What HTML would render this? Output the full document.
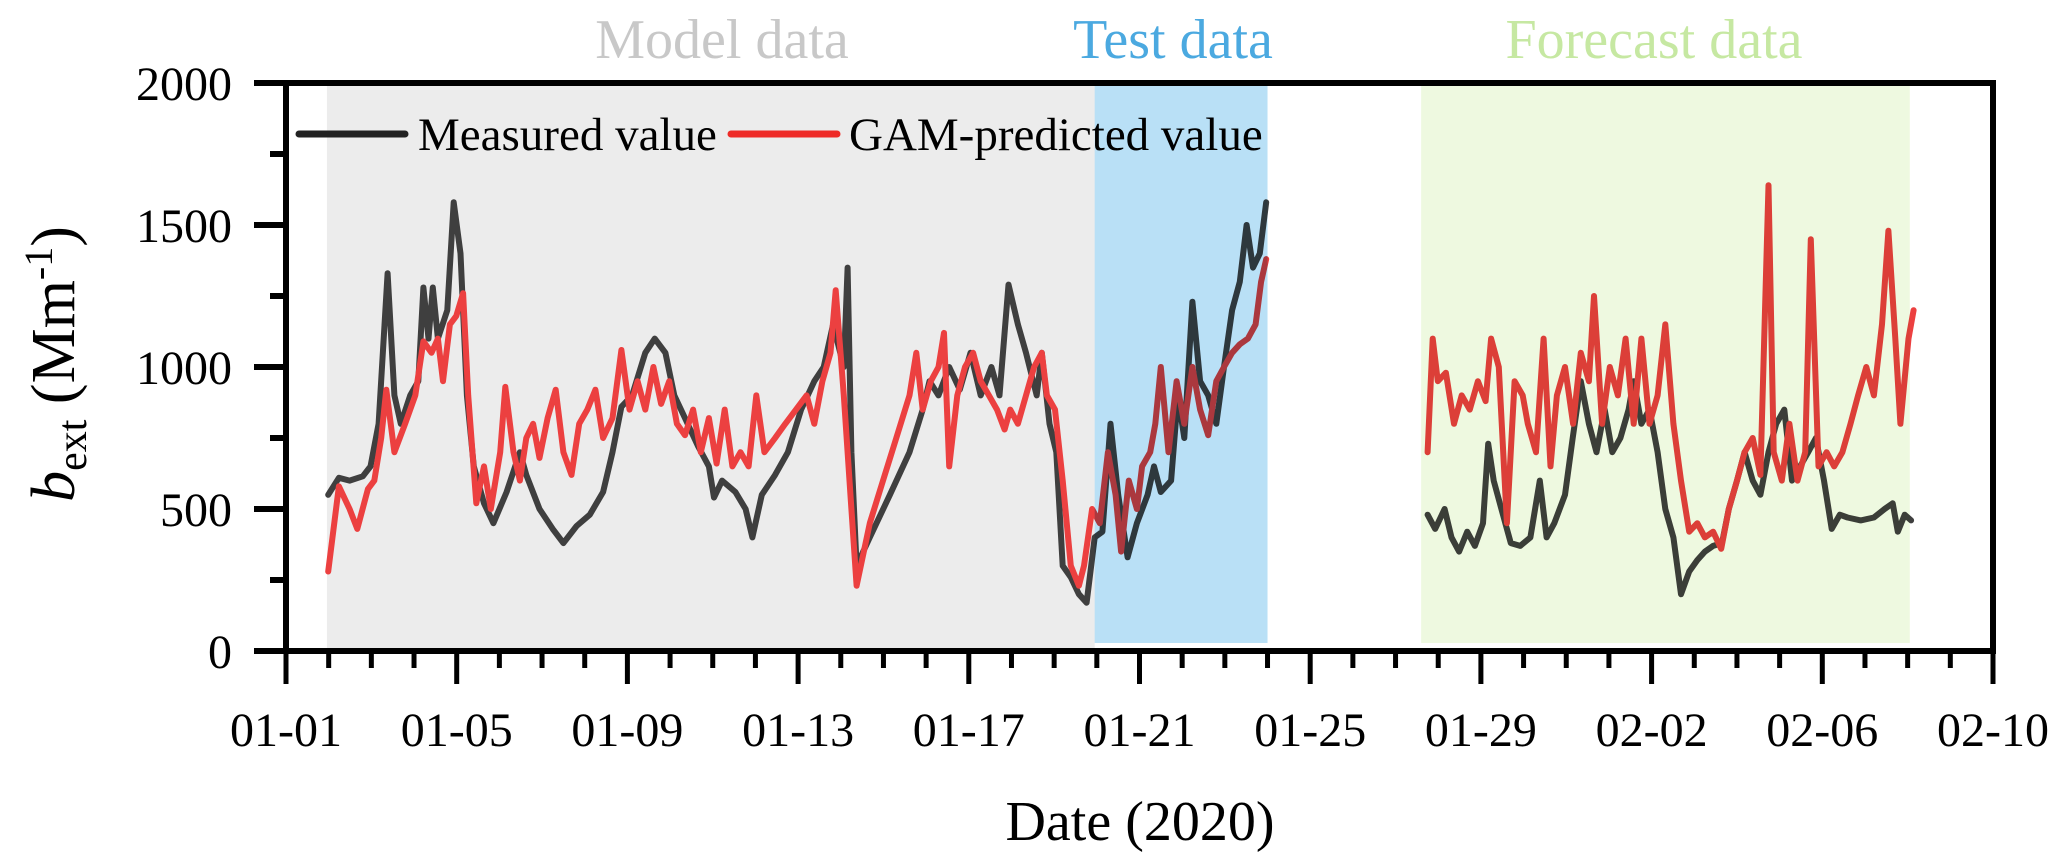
<!DOCTYPE html>
<html><head><meta charset="utf-8"><style>
html,body{margin:0;padding:0;background:#fff;}
svg{display:block;font-family:"Liberation Serif",serif;}
</style></head><body>
<svg id="chart" width="2067" height="865" viewBox="0 0 2067 865">
<g id="bg"></g>
<g id="series"></g>
<g id="overlays"></g>
<g id="axes"></g>
<text x="722" y="58" font-size="56" fill="#c8c8c8" text-anchor="middle">Model data</text>
<text x="1173" y="58" font-size="56" fill="#4ba9e0" text-anchor="middle">Test data</text>
<text x="1654" y="58" font-size="56" fill="#c6e8a2" text-anchor="middle">Forecast data</text>
<g>
<line x1="299" y1="134" x2="405" y2="134" stroke="#222" stroke-width="7" stroke-linecap="round"/>
<text x="418" y="150" font-size="47" fill="#000">Measured value</text>
<line x1="731" y1="134" x2="837" y2="134" stroke="#ee2b27" stroke-width="7" stroke-linecap="round"/>
<text x="849" y="150" font-size="47" fill="#000">GAM-predicted value</text>
</g>
<text x="1140" y="840" font-size="56" text-anchor="middle">Date (2020)</text>
<text transform="translate(74,364) rotate(-90)" font-size="62" text-anchor="middle"><tspan font-style="italic">b</tspan><tspan font-size="42" dy="12">ext</tspan><tspan dy="-12"> (Mm</tspan><tspan font-size="40" dy="-22">-1</tspan><tspan dy="22">)</tspan></text>
</svg>
<script>
const measDays=[0.99,1.24,1.49,1.80,1.98,2.17,2.38,2.54,2.69,2.91,3.10,3.22,3.34,3.44,3.56,3.78,3.93,4.09,4.24,4.40,4.64,4.86,5.17,5.48,5.63,5.94,6.25,6.50,6.81,7.12,7.43,7.65,7.86,8.11,8.42,8.64,8.89,9.10,9.35,9.66,9.91,10.03,10.22,10.53,10.77,10.93,11.15,11.46,11.76,12.07,12.38,12.60,12.82,13.07,13.16,13.25,13.37,13.68,14.15,14.61,14.92,15.08,15.29,15.54,15.79,16.04,16.28,16.53,16.72,16.93,17.15,17.34,17.59,17.71,17.89,18.05,18.20,18.39,18.58,18.76,18.95,19.13,19.32,19.50,19.72,19.94,20.19,20.34,20.50,20.74,20.90,21.05,21.24,21.42,21.61,21.80,21.98,22.17,22.35,22.51,22.66,22.82,22.97];
const measVals=[550,610,600,615,650,800,1330,900,800,900,950,1280,1100,1280,1100,1200,1580,1400,900,650,520,450,560,700,620,500,430,380,440,480,560,700,860,900,1050,1100,1050,900,820,720,650,540,600,560,500,400,550,620,700,850,950,1000,1150,1000,1350,700,300,400,550,700,850,950,900,1000,920,1050,900,1000,900,1290,1150,1050,900,1050,800,700,300,260,200,170,400,420,800,550,330,450,550,650,560,600,900,750,1230,950,900,800,1000,1200,1300,1500,1350,1400,1580];
const gamDays=[0.99,1.24,1.49,1.67,1.92,2.07,2.23,2.35,2.54,2.79,3.03,3.22,3.41,3.56,3.68,3.84,3.99,4.15,4.27,4.46,4.64,4.80,5.02,5.14,5.33,5.48,5.63,5.79,5.94,6.13,6.32,6.50,6.69,6.87,7.06,7.25,7.43,7.65,7.86,8.05,8.24,8.42,8.61,8.79,8.98,9.16,9.35,9.54,9.72,9.91,10.09,10.28,10.46,10.65,10.84,11.02,11.21,11.46,11.70,11.95,12.20,12.38,12.57,12.76,12.88,13.07,13.25,13.37,13.68,13.99,14.30,14.61,14.77,14.92,15.11,15.29,15.42,15.54,15.73,15.91,16.10,16.28,16.47,16.66,16.84,16.97,17.15,17.34,17.53,17.71,17.83,18.02,18.20,18.39,18.58,18.70,18.89,19.07,19.26,19.44,19.57,19.75,19.94,20.06,20.25,20.37,20.50,20.68,20.87,21.05,21.24,21.42,21.61,21.80,21.98,22.17,22.35,22.54,22.72,22.85,22.97];
const gamVals=[280,580,500,430,570,600,750,920,700,800,900,1090,1050,1100,950,1150,1180,1260,900,520,650,500,700,930,700,600,750,800,680,820,920,700,620,800,850,920,750,820,1060,850,950,850,1000,870,950,800,760,850,700,820,660,850,650,700,650,900,700,750,800,850,900,800,950,1050,1270,900,500,230,450,600,750,900,1050,850,950,1000,1120,650,900,1000,1050,950,900,850,780,850,800,900,1000,1050,900,850,600,300,230,300,500,450,700,550,350,600,500,650,700,800,1000,700,950,800,1000,850,760,950,1000,1050,1080,1100,1150,1300,1380];
const fcMeasDays=[26.75,26.93,27.15,27.31,27.49,27.68,27.86,28.05,28.17,28.30,28.48,28.70,28.92,29.16,29.38,29.54,29.72,29.97,30.15,30.34,30.53,30.71,30.90,31.08,31.27,31.46,31.58,31.76,31.95,32.14,32.32,32.51,32.69,32.88,33.07,33.25,33.44,33.65,33.81,34.00,34.18,34.37,34.55,34.74,34.92,35.11,35.29,35.48,35.67,35.85,36.04,36.22,36.41,36.59,36.90,37.21,37.46,37.65,37.77,37.93,38.08];
const fcMeasVals=[480,430,500,400,350,420,370,450,730,600,500,380,370,400,600,400,450,550,750,950,800,700,850,700,750,850,950,800,850,700,500,400,200,280,320,350,370,380,500,600,700,600,550,700,800,850,600,650,700,750,600,430,480,470,460,470,500,520,420,480,460];
const fcGamDays=[26.75,26.87,26.99,27.18,27.37,27.55,27.74,27.93,28.11,28.24,28.42,28.61,28.79,28.98,29.10,29.29,29.47,29.63,29.78,29.97,30.16,30.34,30.53,30.65,30.84,31.02,31.21,31.39,31.58,31.76,31.95,32.14,32.32,32.51,32.69,32.88,33.07,33.25,33.44,33.63,33.81,34.00,34.18,34.37,34.55,34.74,34.86,35.05,35.23,35.42,35.60,35.73,35.91,36.10,36.28,36.47,36.66,36.84,37.03,37.21,37.40,37.55,37.71,37.83,38.02,38.14];
const fcGamVals=[700,1100,950,980,800,900,850,950,880,1100,1000,450,950,900,800,700,1100,650,900,1000,800,1050,950,1250,800,1000,900,1100,800,1100,800,900,1150,800,600,420,450,400,420,360,500,600,700,750,620,1640,700,600,800,600,700,1450,650,700,650,700,800,900,1000,900,1150,1480,1100,800,1100,1200];
const yTicks=[0,500,1000,1500,2000];
const xTickLabels=["01-01","01-05","01-09","01-13","01-17","01-21","01-25","01-29","02-02","02-06","02-10"];
const regionModel=[0.96,18.95];
const regionTest=[18.95,23.0];
const regionFc=[26.6,38.05];

const NS="http://www.w3.org/2000/svg";
const X0=286,X1=1993,Y0=651,Y1=83,DMAX=40,VMAX=2000;
function xs(d){return X0+d*(X1-X0)/DMAX;}
function ys(v){return Y0-v*(Y0-Y1)/VMAX;}
function mk(tag,attrs,parent){const e=document.createElementNS(NS,tag);for(const k in attrs)e.setAttribute(k,attrs[k]);parent.appendChild(e);return e;}
const bg=document.getElementById('bg'),series=document.getElementById('series'),ov=document.getElementById('overlays'),axes=document.getElementById('axes');

let r=mk('rect',{x:xs(regionModel[0]),y:86,width:xs(regionModel[1])-xs(regionModel[0]),height:562,fill:'#ececec'},bg);



function line(days,vals,color,name){
  const d=days.map((t,i)=>(i?'L':'M')+xs(t).toFixed(1)+' '+ys(vals[i]).toFixed(1)).join(' ');
  const p=mk('path',{d:d,fill:'none',stroke:color,'stroke-width':6,'stroke-linejoin':'round','stroke-linecap':'round'},series);
  
  
}
line(measDays,measVals,'#3f3f3f','measured-line');
line(fcMeasDays,fcMeasVals,'#3f3f3f','forecast-measured-line');
line(gamDays,gamVals,'#ec4040','gam-predicted-line');
line(fcGamDays,fcGamVals,'#ec4040','forecast-gam-line');

r=mk('rect',{x:xs(regionTest[0]),y:86,width:xs(regionTest[1])-xs(regionTest[0]),height:557,fill:'#b9e0f6',style:'mix-blend-mode:multiply'},ov);


r=mk('rect',{x:xs(regionFc[0]),y:86,width:xs(regionFc[1])-xs(regionFc[0]),height:557,fill:'#eef9e0',style:'mix-blend-mode:multiply'},ov);



const fr=mk('rect',{x:X0,y:Y1,width:X1-X0,height:Y0-Y1,fill:'none',stroke:'#000','stroke-width':6},axes);


for(let v=0;v<=2000;v+=250){
  const major=v%500===0;
  const t=mk('line',{x1:major?254:270,x2:X0,y1:ys(v),y2:ys(v),stroke:'#000','stroke-width':6},axes);
  
  
}
yTicks.forEach(v=>{
  const t=mk('text',{x:232,y:ys(v)+17,'font-size':48,'text-anchor':'end'},axes);
  t.textContent=v;
  
  
});
for(let d=0;d<=40;d++){
  const major=d%4===0;
  const t=mk('line',{x1:xs(d),x2:xs(d),y1:Y0,y2:major?684:668,stroke:'#000','stroke-width':5},axes);
  
  
}
xTickLabels.forEach((s,i)=>{
  const t=mk('text',{x:xs(i*4),y:746,'font-size':48,'text-anchor':'middle'},axes);
  t.textContent=s;
  
  
});
</script>
</body></html>
